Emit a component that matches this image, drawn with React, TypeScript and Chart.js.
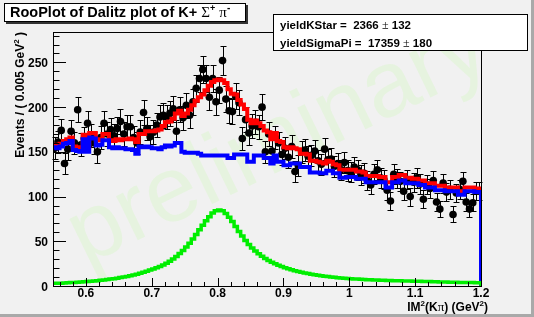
import React, { useEffect, useRef } from 'react';
import { Chart, registerables } from 'chart.js';

Chart.register(...registerables);

// Binning of IM^2(K pi)
const BIN_LO = 0.55;
const BIN_HI = 1.2;
const BIN_W = 0.005;
const Y_MAX = 284;

// Observed events per bin
const dataCounts = [
  154, 161, 174, 137, 153, 173, 160, 197, 158, 165,
  182, 168, 160, 150, 166, 182, 170, 175, 168, 176,
  184, 170, 178, 178, 166, 160, 172, 194, 176, 167,
  172, 180, 189, 191, 189, 193, 198, 173, 197, 188,
  202, 191, 206, 221, 232, 242, 232, 211, 232, 206,
  219, 252, 209, 196, 195, 212, 205, 165, 186, 171,
  179, 183, 178, 200, 150, 170, 151, 166, 160, 147,
  154, 144, 156, 128, 135, 150, 152, 145, 146, 151,
  140, 136, 153, 141, 142, 134, 137, 130, 138, 129,
  127, 133, 130, 124, 126, 118, 113, 125, 130, 121,
  119, 107, 95, 125, 120, 117, 106, 119, 100, 116,
  121, 114, 97, 113, 109, 118, 94, 86, 115, 105,
  108, 80, 104, 108, 117, 94, 86, 93, 106, 106,
];

// Total fit (red)
const totalPdf = [
  158, 157, 159, 162, 164, 166, 156, 155, 155, 169,
  155, 171, 171, 163, 164, 170, 170, 163, 162, 164,
  163, 164, 164, 165, 164, 161, 170, 170, 173, 173,
  173, 174, 175, 179, 183, 184, 187, 193, 196, 190,
  193, 197, 202, 207, 211, 214, 219, 224, 228, 230,
  231, 230, 227, 220, 215, 214, 208, 203, 198, 186,
  182, 185, 182, 179, 174, 172, 164, 171, 162, 161,
  155, 154, 155, 154, 153, 148, 148, 147, 140, 140,
  139, 138, 137, 140, 139, 136, 135, 130, 130, 130,
  130, 130, 128, 128, 127, 123, 123, 123, 123, 122,
  122, 116, 116, 122, 122, 124, 124, 121, 121, 120,
  120, 118, 118, 115, 115, 115, 112, 112, 112, 110,
  110, 110, 110, 106, 106, 110, 110, 110, 109, 109,
];

// Sigma pi background component (blue)
const bkgPdf = [
  155, 154, 156, 159, 160, 162, 152, 151, 150, 164,
  150, 166, 165, 157, 158, 163, 163, 155, 154, 155,
  154, 154, 153, 153, 152, 148, 156, 155, 156, 155,
  154, 154, 153, 155, 157, 156, 157, 160, 160, 150,
  149, 149, 149, 149, 148, 146, 146, 146, 146, 146,
  146, 146, 146, 143, 143, 147, 147, 147, 147, 139,
  139, 146, 146, 146, 143, 143, 137, 146, 139, 139,
  135, 135, 137, 137, 137, 133, 133, 133, 127, 127,
  127, 126, 126, 129, 129, 126, 126, 121, 121, 122,
  122, 122, 120, 120, 120, 116, 116, 116, 116, 116,
  116, 110, 110, 116, 116, 118, 118, 115, 115, 115,
  115, 113, 113, 110, 110, 110, 107, 107, 107, 106,
  106, 106, 106, 102, 102, 106, 106, 106, 105, 105,
];

// K* signal component (green)
const sigPdf = [
  3, 3, 3.2, 3.4, 3.6, 3.8, 4, 4.2, 4.5, 4.8,
  5.1, 5.4, 5.7, 6, 6.4, 6.8, 7.2, 7.7, 8.2, 8.8,
  9.4, 10, 10.7, 11.5, 12.3, 13.2, 14.2, 15.3, 16.6, 18,
  19, 20.3, 21.8, 23.5, 25.5, 27.8, 30.3, 33, 36.2, 39.7,
  43.5, 47.7, 52.5, 57.5, 63, 68, 73, 77.5, 81.5, 84,
  85, 84, 81, 77, 72, 66.5, 61, 56, 51, 46.5,
  42.5, 39, 36, 33.3, 30.8, 28.6, 26.6, 24.8, 23.2, 21.7,
  20.4, 19.2, 18.1, 17.1, 16.2, 15.4, 14.6, 13.9, 13.2, 12.6,
  12, 11.5, 11, 10.5, 10.1, 9.7, 9.3, 9, 8.7, 8.4,
  8.1, 7.9, 7.7, 7.5, 7.3, 7.1, 6.9, 6.7, 6.6, 6.4,
  6.3, 6.2, 6.1, 6, 5.9, 5.8, 5.7, 5.6, 5.5, 5.4,
  5.3, 5.2, 5.1, 5, 4.9, 4.8, 4.7, 4.6, 4.5, 4.4,
  4.3, 4.2, 4.1, 4, 4, 3.9, 3.8, 3.8, 3.7, 3.7,
];

const xTickLabels = ['0.6', '0.7', '0.8', '0.9', '1', '1.1', '1.2'];
const yTickLabels = ['0', '50', '100', '150', '200', '250'];

const titleText = 'RooPlot of Dalitz plot of K+ ';
const statLines = [
  { name: 'yieldKStar =  2366 ', err: ' 132' },
  { name: 'yieldSigmaPi =  17359 ', err: ' 180' },
];

const SANS_B = (px: number) => `bold ${px}px "Liberation Sans", Arial, Helvetica, sans-serif`;
const SERIF = (px: number) => `${px}px "Liberation Serif", "Times New Roman", serif`;

type Seg = { t: string; f: string; dy?: number };

function segsWidth(ctx: CanvasRenderingContext2D, segs: Seg[]) {
  let w = 0;
  for (const s of segs) {
    ctx.font = s.f;
    w += ctx.measureText(s.t).width;
  }
  return w;
}

function drawSegs(ctx: CanvasRenderingContext2D, segs: Seg[], x: number, y: number) {
  let cx = x;
  ctx.textAlign = 'left';
  ctx.textBaseline = 'alphabetic';
  for (const s of segs) {
    ctx.font = s.f;
    ctx.fillText(s.t, cx, y + (s.dy || 0));
    cx += ctx.measureText(s.t).width;
  }
}

function curvePoints(vals: number[], dropToZero: boolean) {
  const pts = vals.map((v, i) => ({ x: BIN_LO + BIN_W * i, y: v }));
  pts.push({ x: BIN_HI, y: vals[vals.length - 1] });
  if (dropToZero) pts.push({ x: BIN_HI, y: 0 });
  return pts;
}

const rootPlugin = {
  id: 'rootStyle',
  beforeDraw(chart: any) {
    const ctx: CanvasRenderingContext2D = chart.ctx;
    const W = chart.width;
    const H = chart.height;
    ctx.save();
    ctx.fillStyle = '#f1f1f1';
    ctx.fillRect(0, 0, W, H);
    ctx.fillStyle = '#a9a9a9';
    ctx.fillRect(0, H - 3, W, 3);
    ctx.fillRect(W - 3, 0, 3, H);
    ctx.restore();
  },
  beforeDatasetsDraw(chart: any) {
    const ctx: CanvasRenderingContext2D = chart.ctx;
    const xs = chart.scales.x;
    const ys = chart.scales.y;
    // watermark
    ctx.save();
    ctx.translate(290, 166);
    ctx.rotate((-26 * Math.PI) / 180);
    ctx.font = '93px "Liberation Sans", Arial, sans-serif';
    ctx.fillStyle = '#e6f3df';
    ctx.textAlign = 'center';
    ctx.textBaseline = 'alphabetic';
    ctx.fillText('preliminary', 0, 0);
    ctx.restore();
    // error bars
    ctx.save();
    ctx.strokeStyle = '#000';
    ctx.lineWidth = 1;
    ctx.beginPath();
    dataCounts.forEach((v, i) => {
      const xv = BIN_LO + BIN_W * (i + 0.5);
      const px = Math.round(xs.getPixelForValue(xv)) + 0.5;
      const e = Math.sqrt(v);
      const yTop = Math.round(ys.getPixelForValue(v + e)) + 0.5;
      const yBot = Math.round(ys.getPixelForValue(v - e)) + 0.5;
      ctx.moveTo(px, yTop);
      ctx.lineTo(px, yBot);
      ctx.moveTo(px - 3, yTop);
      ctx.lineTo(px + 3, yTop);
      ctx.moveTo(px - 3, yBot);
      ctx.lineTo(px + 3, yBot);
    });
    ctx.stroke();
    ctx.restore();
  },
  afterDraw(chart: any) {
    const ctx: CanvasRenderingContext2D = chart.ctx;
    const xs = chart.scales.x;
    const ys = chart.scales.y;
    const a = chart.chartArea;
    ctx.save();
    ctx.strokeStyle = '#000';
    ctx.fillStyle = '#000';
    ctx.lineWidth = 1;
    // frame
    ctx.strokeRect(Math.round(a.left) + 0.5, Math.round(a.top) + 0.5, Math.round(a.right - a.left), Math.round(a.bottom - a.top));
    // y ticks
    ctx.beginPath();
    for (let v = 0; v <= Y_MAX; v += 10) {
      const py = Math.round(ys.getPixelForValue(v)) + 0.5;
      const len = v % 50 === 0 ? 13 : 6.5;
      ctx.moveTo(a.left, py);
      ctx.lineTo(a.left + len, py);
    }
    // x ticks
    for (let k = 28; k <= 60; k++) {
      const xv = k * 0.02;
      const px = Math.round(xs.getPixelForValue(xv)) + 0.5;
      const len = k % 5 === 0 ? 8 : 4;
      ctx.moveTo(px, a.bottom);
      ctx.lineTo(px, a.bottom - len);
    }
    ctx.stroke();
    // tick labels
    ctx.font = SANS_B(12);
    ctx.textAlign = 'right';
    ctx.textBaseline = 'alphabetic';
    for (const lab of yTickLabels) {
      const py = ys.getPixelForValue(parseFloat(lab));
      ctx.fillText(lab, 48, py + 4.5);
    }
    ctx.textAlign = 'center';
    for (const lab of xTickLabels) {
      const px = xs.getPixelForValue(parseFloat(lab));
      ctx.fillText(lab, px, 297);
    }
    // x axis title
    const xTitle: Seg[] = [
      { t: 'IM', f: SANS_B(12) },
      { t: '2', f: SANS_B(8), dy: -5 },
      { t: '(K', f: SANS_B(12) },
      { t: 'π', f: SERIF(13) },
      { t: ') (GeV', f: SANS_B(12) },
      { t: '2', f: SANS_B(8), dy: -5 },
      { t: ')', f: SANS_B(12) },
    ];
    const xtw = segsWidth(ctx, xTitle);
    drawSegs(ctx, xTitle, 488 - xtw, 311);
    // y axis title
    const yTitle: Seg[] = [
      { t: 'Events / ( 0.005 GeV', f: SANS_B(12) },
      { t: '2', f: SANS_B(8), dy: -5 },
      { t: ' )', f: SANS_B(12) },
    ];
    const ytw = segsWidth(ctx, yTitle);
    ctx.save();
    ctx.translate(24, 32);
    ctx.rotate(-Math.PI / 2);
    drawSegs(ctx, yTitle, -ytw, 0);
    ctx.restore();

    // title box
    ctx.fillStyle = '#333';
    ctx.fillRect(6, 5, 242, 19);
    ctx.fillStyle = '#fff';
    ctx.fillRect(4, 3, 242, 19);
    ctx.strokeStyle = '#000';
    ctx.strokeRect(4.5, 3.5, 241, 18);
    ctx.fillStyle = '#000';
    const tSegs: Seg[] = [
      { t: titleText, f: SANS_B(14.5) },
      { t: 'Σ', f: SERIF(15) },
      { t: '+', f: SANS_B(9), dy: -6 },
      { t: ' ', f: SANS_B(14.5) },
      { t: 'π', f: SERIF(15) },
      { t: '-', f: SANS_B(10), dy: -6 },
    ];
    drawSegs(ctx, tSegs, 10, 17);

    // stats box
    ctx.fillStyle = '#fff';
    ctx.fillRect(273, 14, 255, 37);
    ctx.strokeStyle = '#000';
    ctx.strokeRect(273.5, 14.5, 254, 36);
    ctx.fillStyle = '#000';
    statLines.forEach((ln, i) => {
      const segs: Seg[] = [
        { t: ln.name, f: SANS_B(11.5) },
        { t: '±', f: SERIF(12) },
        { t: ln.err, f: SANS_B(11.5) },
      ];
      drawSegs(ctx, segs, 280, 28.5 + i * 18);
    });
    ctx.restore();
  },
};

export default function App() {
  const ref = useRef<HTMLCanvasElement | null>(null);

  useEffect(() => {
    const canvas = ref.current;
    if (!canvas) return;
    const chart = new Chart(canvas, {
      type: 'line',
      data: {
        datasets: [
          {
            label: 'signal',
            data: curvePoints(sigPdf, true),
            borderColor: '#00ee00',
            borderWidth: 3.5,
            pointRadius: 0,
            stepped: true,
            fill: false,
            order: 0,
          },
          {
            label: 'background',
            data: curvePoints(bkgPdf, true),
            borderColor: '#0000ff',
            borderWidth: 4,
            pointRadius: 0,
            stepped: true,
            fill: false,
            order: 1,
          },
          {
            label: 'total',
            data: curvePoints(totalPdf, true),
            borderColor: '#ff0000',
            borderWidth: 4,
            pointRadius: 0,
            stepped: true,
            fill: false,
            order: 2,
          },
          {
            label: 'data',
            data: dataCounts.map((v, i) => ({ x: BIN_LO + BIN_W * (i + 0.5), y: v })),
            showLine: false,
            pointRadius: 3.8,
            pointBackgroundColor: '#000',
            pointBorderColor: '#000',
            pointBorderWidth: 0,
            borderColor: '#000',
            order: 3,
          },
        ] as any,
      },
      options: {
        animation: false,
        responsive: false,
        maintainAspectRatio: false,
        events: [],
        layout: { padding: { left: 53, right: 53, top: 32, bottom: 31 } },
        plugins: {
          legend: { display: false },
          tooltip: { enabled: false },
          title: { display: false },
        },
        scales: {
          x: { type: 'linear', min: BIN_LO, max: BIN_HI, display: false },
          y: { type: 'linear', min: 0, max: Y_MAX, display: false },
        },
      } as any,
      plugins: [rootPlugin as any],
    });
    return () => chart.destroy();
  }, []);

  return (
    <div style={{ position: 'fixed', left: 0, top: 0, width: 534, height: 317 }}>
      <canvas ref={ref} width={534} height={317} style={{ display: 'block', width: 534, height: 317 }} />
    </div>
  );
}
